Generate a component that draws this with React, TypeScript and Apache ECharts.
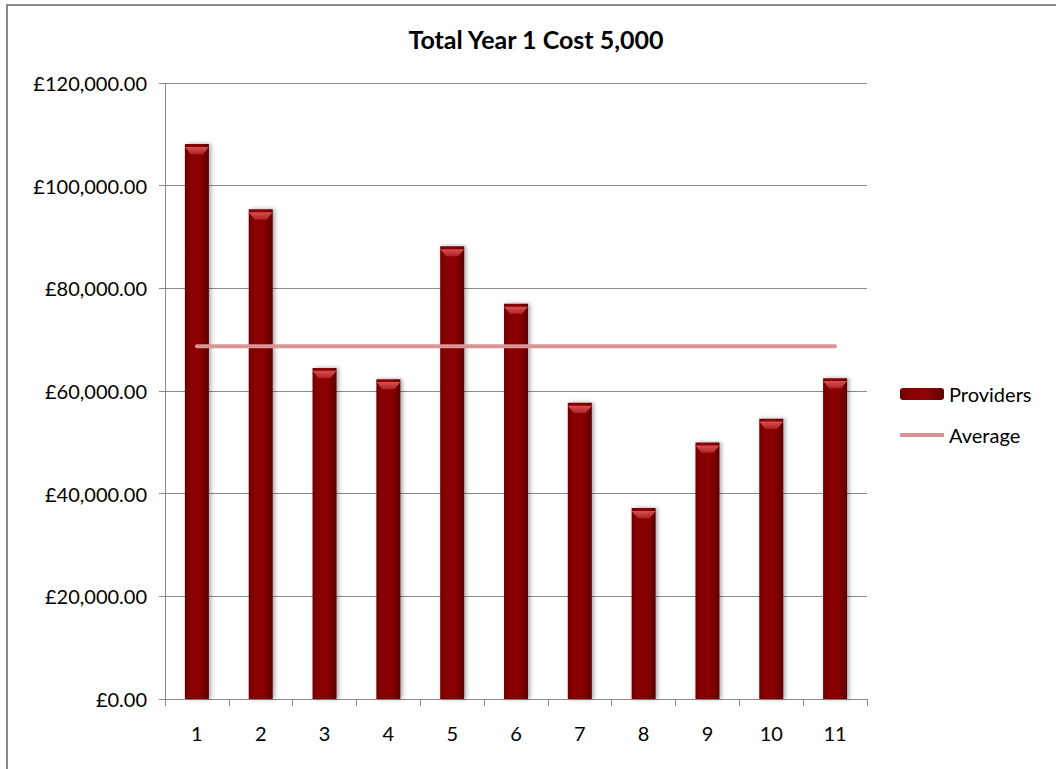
import React, { useEffect, useRef } from "react";
import * as echarts from "echarts";

// Provider numbers shown along the x axis
const providers = ["1", "2", "3", "4", "5", "6", "7", "8", "9", "10", "11"];

// Total year-one cost per provider (GBP)
const providerCosts = [108100, 95400, 64500, 62300, 88200, 77000, 57700, 37200, 49950, 54600, 62500];

// Average cost across providers, drawn as a flat reference line
const averageCost = [68700, 68700, 68700, 68700, 68700, 68700, 68700, 68700, 68700, 68700, 68700];

const FONT = "Lato, 'Open Sans', 'Noto Sans', sans-serif";

const formatPounds = (v: number) =>
  "£" + v.toLocaleString("en-GB", { minimumFractionDigits: 2, maximumFractionDigits: 2 });

export default function App() {
  const ref = useRef<HTMLDivElement>(null);

  useEffect(() => {
    if (!ref.current) return;
    const chart = echarts.init(ref.current, undefined, { renderer: "svg" });

    const barFill = new echarts.graphic.LinearGradient(0, 0, 1, 0, [
      { offset: 0, color: "#6e0000" },
      { offset: 0.25, color: "#880303" },
      { offset: 0.6, color: "#8c0606" },
      { offset: 1, color: "#5e0000" },
    ]);

    const bevelFill = new echarts.graphic.LinearGradient(0, 0, 0, 1, [
      { offset: 0, color: "#d65050" },
      { offset: 1, color: "#b02424" },
    ]);

    chart.setOption({
      animation: false,
      backgroundColor: "#ffffff",
      title: {
        text: "Total Year 1 Cost 5,000",
        left: 531,
        top: 21,
        textAlign: "center",
        textStyle: { fontFamily: FONT, fontSize: 25, fontWeight: "bold", color: "#000" },
      },
      legend: {
        orient: "vertical",
        left: 900,
        top: 384,
        padding: 0,
        itemWidth: 44,
        itemHeight: 12,
        itemGap: 21,
        data: [
          { name: "Providers" },
          { name: "Average", icon: "path://M0,0 L44,0 L44,4 L0,4 Z" },
        ],
        textStyle: { fontFamily: FONT, fontSize: 20, color: "#000" },
      },
      graphic: [
        {
          type: "rect",
          shape: { x: 7, y: 5, width: 1100, height: 800 },
          style: { fill: "none", stroke: "#8a8a8a", lineWidth: 2 },
          silent: true,
        },
      ],
      grid: { left: 165, right: 189, top: 83, bottom: 70, containLabel: false },
      xAxis: {
        type: "category",
        data: providers,
        axisLine: { lineStyle: { color: "#8a8a8a", width: 1 } },
        axisTick: { show: true, length: 7, lineStyle: { color: "#8a8a8a" } },
        axisLabel: { fontFamily: FONT, fontSize: 20, color: "#000", margin: 24 },
      },
      yAxis: {
        type: "value",
        min: 0,
        max: 120000,
        interval: 20000,
        axisLine: { show: true, lineStyle: { color: "#8a8a8a", width: 1 } },
        axisTick: { show: true, length: 6, lineStyle: { color: "#8a8a8a" } },
        splitLine: { lineStyle: { color: "#8a8a8a", width: 1 } },
        axisLabel: { fontFamily: FONT, fontSize: 20, color: "#000", margin: 18, formatter: formatPounds },
      },
      series: [
        {
          name: "Providers",
          type: "bar",
          data: providerCosts,
          barWidth: 24,
          itemStyle: {
            color: barFill,
            shadowColor: "rgba(0,0,0,0.35)",
            shadowBlur: 4,
            shadowOffsetX: 2,
          },
          z: 2,
        },
        {
          // bevel highlight on top of each bar
          name: "Providers top",
          type: "pictorialBar",
          data: providerCosts,
          symbol: "path://M0,0 L24,0 L18,7 L6,7 Z",
          symbolSize: [24, 7],
          symbolPosition: "end",
          symbolOffset: [0, 3],
          itemStyle: { color: bevelFill },
          silent: true,
          z: 3,
        },
        {
          name: "Average",
          type: "line",
          data: averageCost,
          symbol: "none",
          lineStyle: { color: "#d99594", width: 4, cap: "round" },
          itemStyle: { color: "#d99594" },
          z: 5,
        },
      ],
    });

    return () => chart.dispose();
  }, []);

  return (
    <div
      ref={ref}
      style={{ position: "fixed", left: 0, top: 0, width: 1056, height: 769, background: "#fff" }}
    />
  );
}
